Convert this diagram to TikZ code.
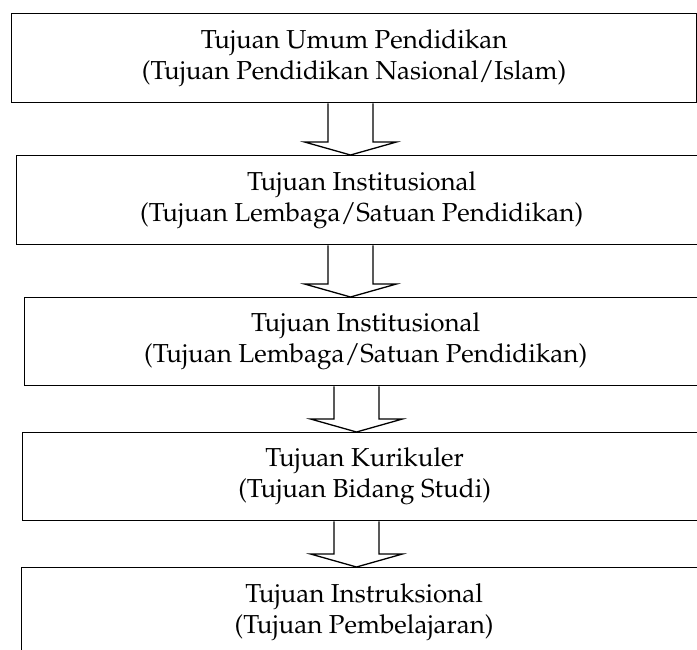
\documentclass[tikz,border=0pt]{standalone}
\usepackage[T1]{fontenc}
\renewcommand{\rmdefault}{ppl}
\usetikzlibrary{calc}

% hollow block arrow from the bottom of one box to the top of the next
\newcommand{\blockarrow}[3]{%
  \draw[panah] ($(#1.south -| #3)+(-22.5,0)$)
    -- ($(#2.north -| #3)+(-22.5,-13)$)
    -- ($(#2.north -| #3)+(-46,-13)$)
    -- (#2.north -| #3)
    -- ($(#2.north -| #3)+(46,-13)$)
    -- ($(#2.north -| #3)+(22.5,-13)$)
    -- ($(#1.south -| #3)+(22.5,0)$);}

\begin{document}
\begin{tikzpicture}[x=1pt,y=-1pt]
\tikzset{kotak/.style = {draw, line width=1.3pt, rectangle, anchor=north west,
                         inner sep=0pt, align=center,
                         font=\fontsize{26}{31}\selectfont}}
\tikzset{panah/.style = {line width=1.3pt, line join=miter}}
\useasboundingbox (0,0) rectangle (697,650);
%\draw[help lines, step=50] (0,0) grid (697,650);

   \node[kotak, minimum width=685, minimum height=89] (T1) at (11,13)
      {Tujuan Umum Pendidikan\\(Tujuan Pendidikan Nasional/Islam)};
   \node[kotak, minimum width=690, minimum height=89] (T2) at (16,155)
      {Tujuan Institusional\\(Tujuan Lembaga/Satuan Pendidikan)};
   \node[kotak, minimum width=682, minimum height=88] (T3) at (24,297)
      {Tujuan Institusional\\(Tujuan Lembaga/Satuan Pendidikan)};
   \node[kotak, minimum width=684, minimum height=88] (T4) at (22,432)
      {Tujuan Kurikuler\\(Tujuan Bidang Studi)};
   \node[kotak, minimum width=685, minimum height=89] (T5) at (21,567)
      {Tujuan Instruksional\\(Tujuan Pembelajaran)};

   \coordinate (p1) at (350.5,0);
   \coordinate (p2) at (356.5,0);
   \blockarrow{T1}{T2}{p1}
   \blockarrow{T2}{T3}{p1}
   \blockarrow{T3}{T4}{p2}
   \blockarrow{T4}{T5}{p2}

\end{tikzpicture}
\end{document}
